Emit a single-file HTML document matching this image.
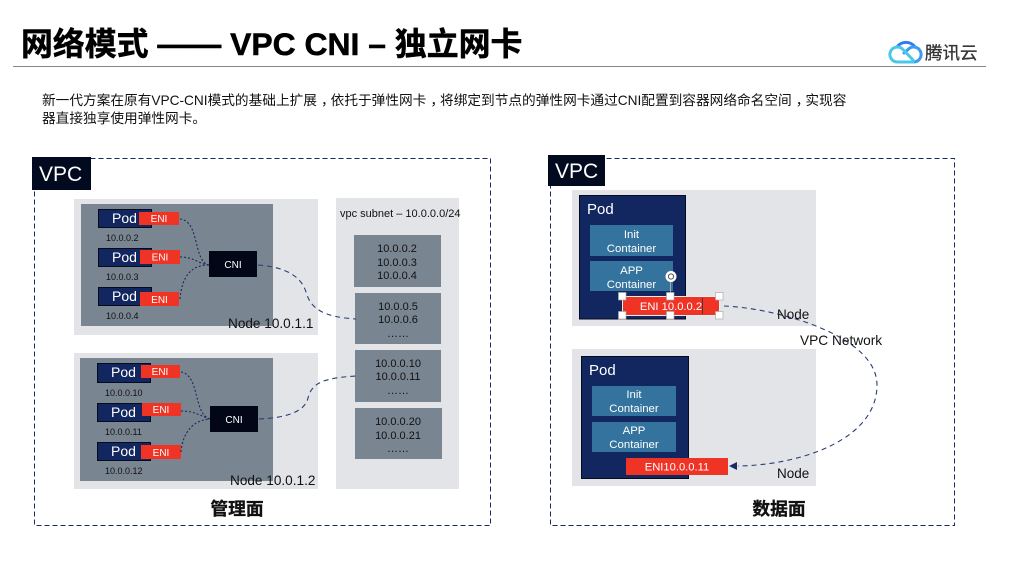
<!DOCTYPE html>
<html><head><meta charset="utf-8"><style>
html,body{margin:0;padding:0;background:#fff;width:1023px;height:564px;overflow:hidden}
svg{display:block}
text{font-family:"Liberation Sans","Noto Sans CJK SC",sans-serif}
.w{fill:#fff}.k{fill:#111}
.outer{fill:#e3e4e8}.inner{fill:#7a8592}
.pod{fill:#12265f;stroke:#050a1c;stroke-width:1}
.eni{fill:#ef3325}
.cni{fill:#020617}
.cont{fill:#33739d}
.d1{fill:none;stroke:#1b2a55;stroke-width:1.1;stroke-dasharray:2 2}
.d2{fill:none;stroke:#2a3c74;stroke-width:1.1;stroke-dasharray:5 4}
.box{fill:none;stroke:#1a2a66;stroke-width:1;stroke-dasharray:5 3}
.h{fill:#fff;stroke:#aaa;stroke-width:.7}
</style></head><body>
<svg width="1023" height="564" viewBox="0 0 1023 564" xmlns="http://www.w3.org/2000/svg">
<text x="21" y="55" font-size="31.900" font-weight="700" fill="#000" stroke="#000" stroke-width=".5">网络模式 —— VPC CNI – 独立网卡</text>
<line x1="13" y1="66.500" x2="986" y2="66.500" stroke="#888" stroke-width="1"/>
<!-- logo -->
<g fill="none" stroke-width="3" stroke-linecap="round">
<path d="M897 47 A11 11 0 0 1 915 47" stroke="#2f7df0"/>
<path d="M906 62 H913.500 A7.500 7.500 0 1 0 908 49.500 L904 53" stroke="#3b9cf0"/>
<path d="M913 62 H897.500 A7.500 7.500 0 1 1 903 49.500 L913 60" stroke="#4bc8e8"/>
</g>
<text x="925" y="59" font-size="17.500" fill="#333" stroke="#333" stroke-width=".3">腾讯云</text>
<text x="42" y="105" font-size="13.680" fill="#111">新一代方案在原有VPC-CNI模式的基础上扩展<tspan dx="4">，</tspan><tspan dx="-4">依托于弹性网卡</tspan><tspan dx="4">，</tspan><tspan dx="-4">将绑定到节点的弹性网卡通过CNI配置到容器网络命名空间</tspan><tspan dx="4">，</tspan><tspan dx="-4">实现容</tspan></text>
<text x="42" y="123" font-size="13.680" fill="#111">器直接独享使用弹性网卡。</text>

<!-- left VPC -->
<rect class="box" x="34.500" y="158.500" width="456" height="367"/>
<rect x="32" y="157" width="59" height="33" fill="#020a20"/>
<text x="39" y="181" font-size="21" class="w">VPC</text>

<!-- Node 1 -->
<rect class="outer" x="74" y="199" width="244" height="136"/>
<rect class="inner" x="81" y="204" width="192" height="122"/>
<rect class="pod" x="98.500" y="209.500" width="53" height="18"/>
<rect class="pod" x="98.500" y="248.500" width="53" height="18"/>
<rect class="pod" x="98.500" y="287.500" width="53" height="18"/>
<text x="112" y="223" font-size="14" class="w">Pod</text>
<text x="112" y="262" font-size="14" class="w">Pod</text>
<text x="112" y="301" font-size="14" class="w">Pod</text>
<rect class="eni" x="139" y="212" width="40" height="13"/>
<rect class="eni" x="140" y="250" width="40" height="14"/>
<rect class="eni" x="140" y="292" width="39" height="14"/>
<text x="159" y="222" font-size="10" class="w" text-anchor="middle">ENI</text>
<text x="160" y="260.500" font-size="10" class="w" text-anchor="middle">ENI</text>
<text x="159.500" y="303" font-size="10" class="w" text-anchor="middle">ENI</text>
<text x="106" y="241" font-size="9" fill="#111">10.0.0.2</text>
<text x="106" y="280" font-size="9" fill="#111">10.0.0.3</text>
<text x="106" y="319" font-size="9" fill="#111">10.0.0.4</text>
<rect class="cni" x="209" y="251" width="48" height="26"/>
<text x="233" y="268" font-size="10" class="w" text-anchor="middle">CNI</text>
<path class="d1" d="M180 219 C200 221 193 262 209 265"/>
<path class="d1" d="M180 257 C195 257 198 264 209 265"/>
<path class="d1" d="M180 299 C182 275 192 265 209 265"/>

<!-- Node 2 -->
<rect class="outer" x="74" y="353" width="244" height="136"/>
<rect class="inner" x="80" y="358" width="193" height="123"/>
<rect class="pod" x="97.500" y="363.500" width="53" height="19"/>
<rect class="pod" x="97.500" y="403.500" width="53" height="18"/>
<rect class="pod" x="97.500" y="442.500" width="53" height="18"/>
<text x="111" y="377" font-size="14" class="w">Pod</text>
<text x="111" y="417" font-size="14" class="w">Pod</text>
<text x="111" y="456" font-size="14" class="w">Pod</text>
<rect class="eni" x="141" y="365" width="39" height="13"/>
<rect class="eni" x="142" y="403" width="39" height="13"/>
<rect class="eni" x="141" y="445" width="40" height="14"/>
<text x="160" y="375" font-size="10" class="w" text-anchor="middle">ENI</text>
<text x="161" y="413" font-size="10" class="w" text-anchor="middle">ENI</text>
<text x="161" y="456" font-size="10" class="w" text-anchor="middle">ENI</text>
<text x="105" y="396" font-size="9" fill="#111">10.0.0.10</text>
<text x="105" y="435" font-size="9" fill="#111">10.0.0.11</text>
<text x="105" y="474" font-size="9" fill="#111">10.0.0.12</text>
<rect class="cni" x="210" y="406" width="48" height="26"/>
<text x="234" y="423" font-size="10" class="w" text-anchor="middle">CNI</text>
<path class="d1" d="M181 372 C200 375 193 414 210 419"/>
<path class="d1" d="M181 411 C195 411 200 416 210 419"/>
<path class="d1" d="M181 452 C183 430 195 420 210 419"/>

<!-- subnet -->
<rect class="outer" x="336" y="198" width="123" height="291"/>
<text x="340" y="217" font-size="11" fill="#111">vpc subnet – 10.0.0.0/24</text>
<rect class="inner" x="354" y="235" width="87" height="52"/>
<rect class="inner" x="355" y="293" width="86" height="51"/>
<rect class="inner" x="355" y="350" width="86" height="52"/>
<rect class="inner" x="355" y="408" width="87" height="51"/>
<g font-size="11" fill="#111" text-anchor="middle">
<text x="397" y="252">10.0.0.2</text><text x="397" y="266">10.0.0.3</text><text x="397" y="279">10.0.0.4</text>
<text x="398" y="310">10.0.0.5</text><text x="398" y="323">10.0.0.6</text><text x="398" y="337">……</text>
<text x="398" y="367">10.0.0.10</text><text x="398" y="380">10.0.0.11</text><text x="398" y="394">……</text>
<text x="398" y="425">10.0.0.20</text><text x="398" y="439">10.0.0.21</text><text x="398" y="452">……</text>
</g>
<path class="d2" d="M258 265 C285 267 301 276 306 292 C311 310 325 317 356 319"/>
<path class="d2" d="M259 419 C285 418 305 412 308 398 C312 382 325 378 356 376"/>
<text x="228" y="328" font-size="13.600" fill="#111">Node 10.0.1.1</text>
<text x="230" y="485" font-size="13.600" fill="#111">Node 10.0.1.2</text>
<text x="237" y="515" font-size="17.800" font-weight="700" fill="#111" stroke="#111" stroke-width=".3" text-anchor="middle">管理面</text>

<!-- right VPC -->
<rect class="box" x="550.500" y="158.500" width="404" height="367"/>
<rect x="548" y="155" width="57" height="31" fill="#020a20"/>
<text x="555" y="178" font-size="21" class="w">VPC</text>

<rect class="outer" x="572" y="190" width="244" height="136"/>
<rect class="pod" x="579.500" y="195.500" width="106" height="123.500"/>
<text x="587" y="214" font-size="15" class="w">Pod</text>
<rect class="cont" x="590" y="225" width="83" height="31"/>
<rect class="cont" x="590" y="261" width="83" height="30"/>
<g font-size="11.400" fill="#fff" text-anchor="middle">
<text x="631.500" y="238">Init</text><text x="631.500" y="252">Container</text>
<text x="631.500" y="274">APP</text><text x="631.500" y="288">Container</text>
</g>
<rect class="eni" x="622.500" y="296.500" width="97" height="19" stroke="#eee" stroke-width="1"/>
<text x="671" y="310" font-size="11.200" class="w" text-anchor="middle">ENI 10.0.0.2</text>
<line x1="702.500" y1="298" x2="702.500" y2="314" stroke="#333" stroke-width=".8"/>
<line x1="670.500" y1="280" x2="670.500" y2="297" stroke="#aaa" stroke-width="1"/>
<circle cx="671" cy="276.500" r="5.500" fill="#fff"/>
<circle cx="671" cy="276.500" r="2.600" fill="none" stroke="#555" stroke-width="1"/>
<rect class="h" x="618.500" y="292.500" width="7.500" height="7.500"/>
<rect class="h" x="666.500" y="292.500" width="7.500" height="7.500"/>
<rect class="h" x="715.500" y="292.500" width="7.500" height="7.500"/>
<rect class="h" x="618.500" y="311.500" width="7.500" height="7.500"/>
<rect class="h" x="666.500" y="311.500" width="7.500" height="7.500"/>
<rect class="h" x="715.500" y="311.500" width="7.500" height="7.500"/>

<rect class="outer" x="572" y="349" width="244" height="137"/>
<rect class="pod" x="581.500" y="356.500" width="107" height="122"/>
<text x="589" y="375" font-size="15" class="w">Pod</text>
<rect class="cont" x="592" y="386" width="84" height="30"/>
<rect class="cont" x="592" y="422" width="84" height="30"/>
<g font-size="11.400" fill="#fff" text-anchor="middle">
<text x="634" y="398">Init</text><text x="634" y="412">Container</text>
<text x="634" y="434">APP</text><text x="634" y="448">Container</text>
</g>
<rect class="eni" x="626" y="458" width="102" height="17"/>
<text x="677" y="470.500" font-size="11.200" class="w" text-anchor="middle">ENI10.0.0.11</text>

<path class="d2" d="M724 306 C775 308 877 335 877 385 C877 440 800 465 738 466"/>
<path d="M729 466 L737 462 L737 470 Z" fill="#1a2a66"/>
<text x="777" y="319" font-size="13.500" fill="#111">Node</text>
<text x="800" y="345" font-size="13.700" fill="#111">VPC Network</text>
<text x="777" y="478" font-size="13.500" fill="#111">Node</text>
<text x="779" y="515" font-size="17.800" font-weight="700" fill="#111" stroke="#111" stroke-width=".3" text-anchor="middle">数据面</text>
</svg>
</body></html>
